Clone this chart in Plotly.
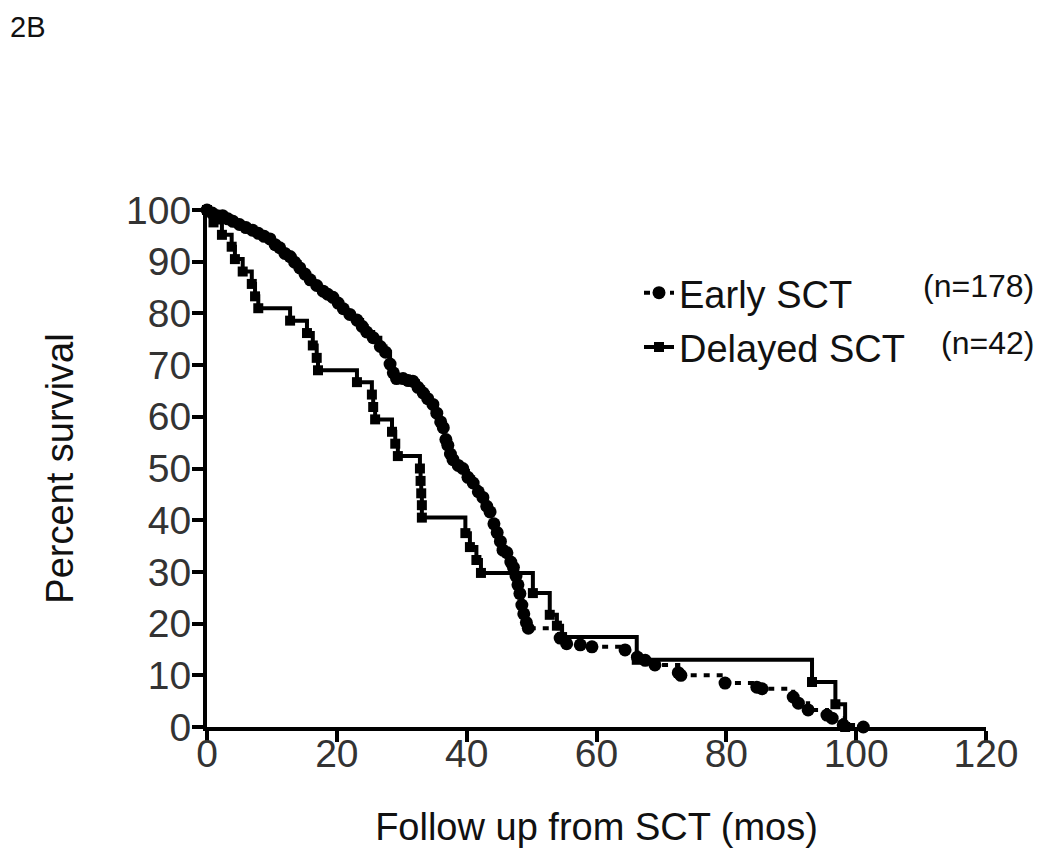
import plotly.graph_objects as go

# Early SCT (n=178) – Kaplan-Meier points
early_months = [0, 0.8, 1.6, 2.4, 3.2, 4.0, 5.0, 6.0, 7.0, 7.9, 8.8, 9.7, 10.5, 11.2, 12.0,
                12.8, 13.5, 14.3, 15.1, 15.9, 16.9, 17.9, 18.6, 19.4, 20.2, 21.0, 22.0,
                23.1, 23.9, 24.6, 25.6, 26.7, 27.5, 28.2, 28.7, 29.2, 30.2, 31.0, 31.7,
                32.5, 33.3, 34.0, 34.8, 35.4, 36.0, 36.4, 36.8, 37.1, 37.5, 37.9, 38.7,
                39.4, 40.2, 41.0, 41.8, 42.5, 43.1, 43.6, 44.2, 44.7, 45.2, 45.6, 46.2,
                46.8, 47.2, 47.6, 47.9, 48.2, 48.5, 48.8, 49.2, 49.5, 54.4, 55.4, 57.5,
                59.3, 64.4, 66.3, 67.5, 69.0, 72.6, 73.0, 79.8, 84.7, 85.5, 90.3, 91.1,
                92.6, 95.5, 96.3, 98.0, 101.1]
early_surv = [100, 99.4, 98.9, 98.9, 98.3, 97.8, 97.2, 96.6, 96.1, 95.5, 94.9, 94.4, 93.3,
              92.7, 91.6, 91.0, 89.9, 88.8, 87.6, 86.5, 85.4, 84.3, 83.7, 83.1, 82.0, 80.9,
              79.8, 78.7, 77.5, 76.4, 75.3, 73.6, 72.5, 70.2, 68.5, 67.4, 67.4, 67.0, 66.9,
              65.7, 64.6, 63.5, 62.4, 60.7, 59.0, 57.9, 55.6, 54.5, 52.8, 51.7, 50.6, 50.0,
              48.3, 47.2, 45.5, 44.4, 42.7, 41.6, 39.3, 37.6, 35.9, 34.2, 33.7, 31.9, 30.9,
              29.2, 27.5, 25.8, 23.6, 21.9, 20.2, 19.1, 17.2, 16.1, 15.9, 15.5, 14.9, 13.5,
              12.9, 12.0, 10.5, 10.0, 8.5, 7.7, 7.4, 5.8, 4.6, 3.3, 2.3, 1.7, 0.4, 0.0]

# Delayed SCT (n=42)
delayed_months = [0, 1.0, 2.3, 3.8, 4.3, 5.5, 6.9, 7.4, 7.9, 12.8, 15.4, 16.3, 16.9, 17.1,
                  23.1, 25.4, 25.6, 25.9, 28.5, 29.0, 29.4, 32.8, 32.9, 33.0, 33.1, 33.1,
                  39.8, 40.5, 41.5, 42.2, 50.2, 52.8, 53.9, 54.7, 66.2, 93.2, 96.8, 98.3]
delayed_surv = [100, 97.6, 95.2, 92.9, 90.5, 88.1, 85.7, 83.3, 81.0, 78.6, 76.2, 73.8, 71.4,
                69.0, 66.7, 64.3, 61.9, 59.5, 57.1, 54.8, 52.4, 50.0, 47.6, 45.2, 42.9, 40.5,
                37.5, 34.8, 32.3, 29.8, 25.9, 21.7, 19.6, 17.4, 13.0, 8.7, 4.4, 0.0]

x_ticks = [0, 20, 40, 60, 80, 100, 120]
y_ticks = [0, 10, 20, 30, 40, 50, 60, 70, 80, 90, 100]

FONT = "Liberation Sans, Arial, Helvetica, sans-serif"

# the page body adds an 8px margin, so the figure is 8px smaller than the window
OFF = 8
W, H = 1050 - OFF, 850 - OFF
ML, MT = 207 - OFF, 210 - OFF
PW, PH = 779, 517
MR, MB = W - ML - PW, H - MT - PH


def page_to_paper(px, py):
    fx, fy = px - OFF, py - OFF
    return (fx - ML) / PW, (H - MB - fy) / PH


fig = go.Figure()
fig.add_trace(go.Scatter(
    x=early_months, y=early_surv, name="Early SCT", legendgroup="e",
    mode="lines+markers", line=dict(shape="hv", color="black", width=4, dash="6px,7px"),
    marker=dict(symbol="circle", size=13, color="black"), cliponaxis=False))
fig.add_trace(go.Scatter(
    x=delayed_months, y=delayed_surv, name="Delayed SCT", legendgroup="d",
    mode="lines+markers", line=dict(shape="hv", color="black", width=4),
    marker=dict(symbol="square", size=10, color="black"), cliponaxis=False))

axis_common = dict(showline=True, linecolor="black", linewidth=4, ticks="outside",
                   ticklen=11, tickwidth=4, tickcolor="black", showgrid=False,
                   zeroline=False, automargin=False,
                   tickfont=dict(family=FONT, size=39, color="#333333"))

fig.update_xaxes(range=[0, 120], tickvals=x_ticks, ticktext=[str(v) for v in x_ticks],
                 ticklabelstandoff=-22,
                 title=dict(text="Follow up from SCT (mos)",
                            font=dict(family=FONT, size=38, color="#111111"), standoff=41),
                 **axis_common)
fig.update_yaxes(range=[0, 100], tickvals=y_ticks, ticktext=[str(v) for v in y_ticks],
                 ticklabelstandoff=-7,
                 title=dict(text="Percent survival",
                            font=dict(family=FONT, size=38, color="#111111"), standoff=42),
                 **axis_common)

lx, ly = page_to_paper(639, 320)
fig.update_layout(
    width=W, height=H,
    margin=dict(l=ML, r=MR, t=MT, b=MB),
    plot_bgcolor="white", paper_bgcolor="white",
    font=dict(family=FONT, color="black"),
    showlegend=True,
    legend=dict(x=lx, y=ly, xanchor="left", yanchor="middle",
                font=dict(family=FONT, size=38, color="#111111"),
                bgcolor="rgba(0,0,0,0)", tracegroupgap=2, itemwidth=30),
)

a0 = page_to_paper(OFF, OFF + 1)
fig.add_annotation(text="2B", xref="paper", yref="paper", x=a0[0], y=a0[1],
                   xanchor="left", yanchor="top", showarrow=False,
                   font=dict(family=FONT, size=29, color="#111111"))
a1 = page_to_paper(1036, 286)
a2 = page_to_paper(1036, 343)
fig.add_annotation(text="(n=178)", xref="paper", yref="paper", x=a1[0], y=a1[1],
                   xanchor="right", yanchor="middle", showarrow=False,
                   font=dict(family=FONT, size=32, color="#111111"))
fig.add_annotation(text="(n=42)", xref="paper", yref="paper", x=a2[0], y=a2[1],
                   xanchor="right", yanchor="middle", showarrow=False,
                   font=dict(family=FONT, size=32, color="#111111"))

fig.write_html("out.html")
